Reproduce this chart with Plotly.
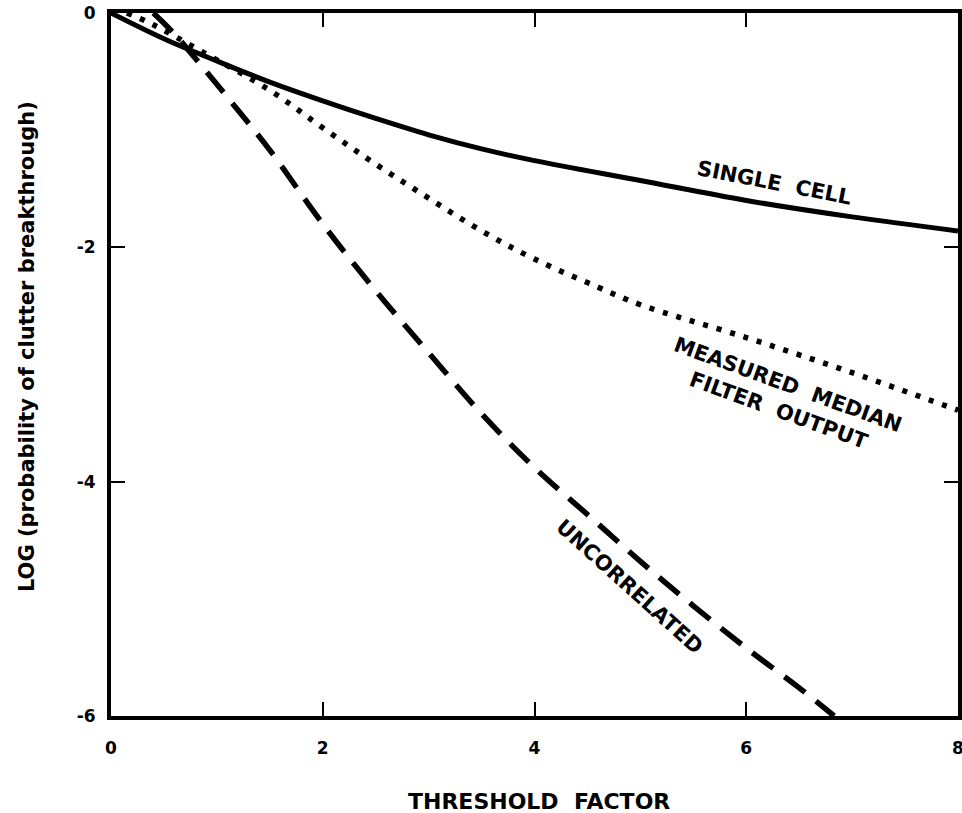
import plotly.graph_objects as go

# Data
single_x = [0, 0.5, 1, 1.5, 2, 2.5, 3, 3.5, 4, 5, 6, 7, 8]
single_y = [0, -0.22, -0.41, -0.59, -0.75, -0.9, -1.04, -1.16, -1.26, -1.43, -1.6, -1.74, -1.86]

median_x = [0.15, 0.4, 0.84, 1.5, 2, 2.5, 3, 3.5, 4, 4.6, 5, 6, 7, 8]
median_y = [0, -0.1, -0.32, -0.66, -0.98, -1.29, -1.58, -1.86, -2.1, -2.34, -2.49, -2.77, -3.07, -3.39]

uncorr_x = [0.4, 0.6, 0.9, 1.2, 1.5, 2, 2.5, 3, 3.5, 4, 4.5, 5, 5.5, 6, 6.5, 6.83]
uncorr_y = [0, -0.18, -0.5, -0.83, -1.17, -1.8, -2.37, -2.9, -3.42, -3.88, -4.28, -4.68, -5.06, -5.42, -5.76, -6.0]

x_ticks = [0, 2, 4, 6, 8]
y_ticks = [0, -2, -4, -6]

FONT = "DejaVu Sans, Liberation Sans, Arial, sans-serif"

fig = go.Figure()
fig.add_trace(go.Scatter(x=single_x, y=single_y, mode="lines", line=dict(color="black", width=5, shape="spline")))
fig.add_trace(go.Scatter(x=median_x, y=median_y, mode="lines", line=dict(color="black", width=5.5, dash="5px,9px", shape="spline")))
fig.add_trace(go.Scatter(x=uncorr_x, y=uncorr_y, mode="lines", line=dict(color="black", width=5.5, dash="26px,14px", shape="spline")))

axis_common = dict(
    showline=True, linecolor="black", linewidth=4, mirror="ticks",
    ticks="inside", ticklen=14, tickwidth=1.5, tickcolor="black",
    showgrid=False, zeroline=False, automargin=False, ticklabeloverflow="allow",
    tickfont=dict(family=FONT, size=17, color="black", weight="bold"),
)

fig.update_xaxes(range=[0, 8], tickvals=x_ticks, ticktext=[str(v) for v in x_ticks],
                 ticklabelstandoff=14, **axis_common)
fig.update_yaxes(range=[-6, 0], tickvals=y_ticks, ticktext=[str(v) for v in y_ticks],
                 ticklabelstandoff=8, **axis_common)

ann_font = dict(family=FONT, size=21, color="black", weight="bold")
fig.add_annotation(x=0.505, y=-0.122, xref="paper", yref="paper", xanchor="center", yanchor="middle",
                   text="THRESHOLD  FACTOR", showarrow=False,
                   font=dict(family=FONT, size=22, color="black", weight="bold"))
fig.add_annotation(x=-0.099, y=0.525, xref="paper", yref="paper", xanchor="center", yanchor="middle",
                   text="LOG (probability of clutter breakthrough)", showarrow=False, textangle=-90,
                   font=dict(family=FONT, size=21, color="black", weight="bold"))
fig.add_annotation(x=6.27, y=-1.45, text="SINGLE  CELL", showarrow=False, textangle=11, font=ann_font)
fig.add_annotation(x=6.35, y=-3.28, text="MEASURED  MEDIAN<br>FILTER  OUTPUT", showarrow=False,
                   textangle=20, align="center", font=ann_font)
fig.add_annotation(x=4.9, y=-4.9, text="UNCORRELATED", showarrow=False, textangle=42, font=ann_font)

fig.update_layout(
    width=962, height=813,
    margin=dict(l=111, r=4, t=13, b=97),
    plot_bgcolor="white", paper_bgcolor="white",
    showlegend=False,
)

fig.write_html("out.html", config={"displayModeBar": False},
               post_script="document.body.style.margin='0';document.body.style.overflow='hidden';")
